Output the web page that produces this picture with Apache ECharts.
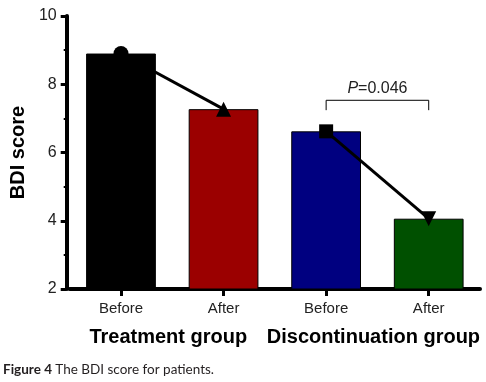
<!DOCTYPE html>
<html><head><meta charset="utf-8">
<script src="https://cdn.jsdelivr.net/npm/echarts@6/dist/echarts.min.js"></script>
<style>html,body{margin:0;padding:0;background:#fff}#c{width:486px;height:382px}</style>
</head><body><div id="c"></div>
<script>
var categories = ['Before', 'After', 'Before', 'After'];
var groups = ['Treatment group', 'Discontinuation group'];
var barValues = [8.9, 7.27, 6.62, 4.06];
var barColors = ['#000000', '#9b0000', '#000080', '#005000'];
var treatmentLine = [8.9, 7.27, '-', '-'];
var discontLine = ['-', '-', 6.62, 4.06];
var bracket = [[2, 7.24], [2, 7.53], [3, 7.53], [3, 7.24]];
var pLabelPos = [2.5, 7.88];
var yTicks = [2, 4, 6, 8, 10];

var chart = echarts.init(document.getElementById('c'), null, {renderer: 'canvas'});
var font = 'Arial, "Liberation Sans", sans-serif';
chart.setOption({
  animation: false,
  grid: {left: 65, right: 6, top: 16, bottom: 93},
  xAxis: [{
    type: 'category', data: categories, position: 'bottom',
    axisLine: {lineStyle: {color: '#000', width: 4}},
    axisTick: {show: true, alignWithLabel: true, length: 7, lineStyle: {width: 3, color: '#000'}},
    axisLabel: {color: '#222', fontSize: 15, fontFamily: font, margin: 12, interval: 0}
  }, {
    type: 'category', data: groups, position: 'bottom', offset: 32,
    axisLine: {show: false}, axisTick: {show: false},
    axisLabel: {color: '#000', fontSize: 20, fontWeight: 'bold', fontFamily: font, margin: 6, interval: 0,
      padding: [0, 8, 0, 0]}
  }],
  yAxis: {
    type: 'value', min: 2, max: 10, interval: 2, offset: 3,
    name: 'BDI score', nameLocation: 'middle', nameGap: 38,
    nameTextStyle: {fontSize: 20, fontWeight: 'bold', color: '#000', fontFamily: font},
    axisLine: {show: true, lineStyle: {color: '#000', width: 4}},
    axisTick: {show: true, length: 6, lineStyle: {width: 3, color: '#000'}},
    minorTick: {show: true, splitNumber: 2, length: 3, lineStyle: {width: 2, color: '#000'}},
    splitLine: {show: false},
    axisLabel: {color: '#222', fontSize: 16, fontFamily: font, margin: 10,
      formatter: function (v) { return yTicks.indexOf(v) >= 0 ? String(v) : ''; }}
  },
  series: [{
    type: 'bar', barWidth: '68%', xAxisIndex: 0,
    data: barValues.map(function (v, i) { return {value: v, itemStyle: {color: barColors[i]}}; }),
    itemStyle: {borderColor: '#000', borderWidth: 1}
  }, {
    type: 'line', xAxisIndex: 0,
    data: treatmentLine.map(function (v, i) {
      return v === '-' ? '-' : {value: v, symbol: i === 0 ? 'circle' : 'triangle'};
    }),
    symbolSize: 15, lineStyle: {color: '#000', width: 3}, itemStyle: {color: '#000'}, z: 5
  }, {
    type: 'line', xAxisIndex: 0,
    data: discontLine.map(function (v, i) {
      return v === '-' ? '-' : (i === 2 ? {value: v, symbol: 'rect', symbolSize: 14} : {value: v, symbol: 'triangle', symbolRotate: 180, symbolSize: 15});
    }),
    lineStyle: {color: '#000', width: 3}, itemStyle: {color: '#000'}, z: 5
  }, {
    type: 'line', xAxisIndex: 0, data: bracket, symbol: 'none',
    lineStyle: {color: '#000', width: 1}, z: 5
  }],
  graphic: [{
    type: 'text', left: 3, top: 363,
    style: {text: '{b|Figure 4} {r|The BDI score for patients.}',
      rich: {b: {fontWeight: 'bold', fontSize: 13.5, fontFamily: 'Lato, "Open Sans", sans-serif', fill: '#231f20'},
             r: {fontSize: 13.5, fontFamily: 'Lato, "Open Sans", sans-serif', fill: '#231f20'}}}
  }]
});
var p2 = chart.convertToPixel({xAxisIndex: 0, yAxisIndex: 0}, [2, pLabelPos[1]]);
var p3 = chart.convertToPixel({xAxisIndex: 0, yAxisIndex: 0}, [3, pLabelPos[1]]);
chart.setOption({graphic: [{}, {
  type: 'text', x: (p2[0] + p3[0]) / 2, y: p2[1],
  style: {text: '{i|P}{n|=0.046}', align: 'center', verticalAlign: 'middle',
    rich: {i: {fontStyle: 'italic', fontSize: 16, fontFamily: font, fill: '#222'},
           n: {fontSize: 16, fontFamily: font, fill: '#222'}}}
}]});
</script></body></html>
